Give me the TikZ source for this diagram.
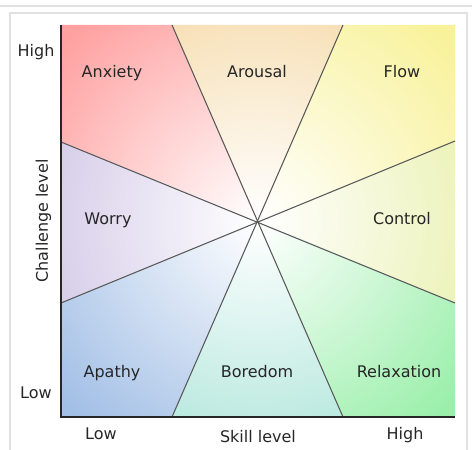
\documentclass[tikz,border=0pt]{standalone}
\usepackage{fontspec}
\setmainfont{DejaVu Sans}
\usetikzlibrary{calc}
\definecolor{fanx}{HTML}{FFA0A0}
\definecolor{faro}{HTML}{F5D9A6}
\definecolor{fflow}{HTML}{F8F29A}
\definecolor{fctl}{HTML}{E8F0AA}
\definecolor{frelax}{HTML}{9AEFAA}
\definecolor{fbore}{HTML}{AAE4D8}
\definecolor{fapa}{HTML}{A2BFE6}
\definecolor{fwor}{HTML}{CDC2E4}
\definecolor{ftext}{HTML}{262626}
\tikzset{
  zone/.style      = {font=\fontsize{12}{14}\selectfont, text=ftext,
                      text height=8.7pt, text depth=0pt},
  axislab/.style   = {font=\fontsize{12}{14}\selectfont, text=ftext,
                      text height=8.7pt, text depth=0pt},
  divider/.style   = {draw=black!65, line width=0.8pt},
  axisline/.style  = {draw=black!85, line width=1.5pt},
  frameline/.style = {draw=black!12, line width=1.2pt},
}

\begin{document}
\begin{tikzpicture}[x=0.75pt,y=0.75pt]
\useasboundingbox (0,0) rectangle (472,450);
% plot corners and the points where the dividers meet the border
\coordinate (c) at (258,229);
\coordinate (tl) at (61,425);  \coordinate (tr) at (455,425);
\coordinate (bl) at (61,33);   \coordinate (br) at (455,33);
\coordinate (t1) at (172,425); \coordinate (t2) at (343,425);
\coordinate (b1) at (172,33);  \coordinate (b2) at (343,33);
\coordinate (l1) at (61,308);  \coordinate (l2) at (61,147);
\coordinate (r1) at (455,309); \coordinate (r2) at (455,147);
% thumbnail frame
\draw[frameline] (0,444) -- (472,444);
\draw[frameline] (10,0) -- (10,437) -- (467,437) -- (467,0);
% shaded zones, white towards the middle
\foreach \col/\pa/\pb/\pc in {fanx/l1/tl/t1, faro/t1/t1/t2, fflow/t2/tr/r1,
    fctl/r1/r1/r2, frelax/r2/br/b2, fbore/b2/b2/b1, fapa/b1/bl/l2, fwor/l2/l2/l1}{
  \begin{scope}
    \clip (c) -- (\pa) -- (\pb) -- (\pc) -- cycle;
    \shade[inner color=white, outer color=\col]
      ($(c)-(265,265)$) rectangle ($(c)+(265,265)$);
  \end{scope}
}
\draw[divider] (l1) -- (r2);
\draw[divider] (t1) -- (b2);
\draw[divider] (t2) -- (b1);
\draw[divider] (r1) -- (l2);
\draw[axisline] (tl) -- (bl) -- (br);
% zone names
\node[zone] (anx) at (112,378) {Anxiety};
\node[zone] (aro) at (257,378) {Arousal};
\node[zone] (flow) at (402,378) {Flow};
\node[zone] (wor) at (108,231) {Worry};
\node[zone] (ctl) at (402,231) {Control};
\node[zone] (apa) at (112,78) {Apathy};
\node[zone] (bore) at (257,78) {Boredom};
\node[zone] (relax) at (399,78) {Relaxation};
% axis labels
\node[axislab] (hiy) at (36,399) {High};
\node[axislab] (loy) at (36,57) {Low};
\node[axislab,rotate=90] (chal) at (42,229) {Challenge level};
\node[axislab] (lox) at (101,16) {Low};
\node[axislab] (skill) at (258,13) {Skill level};
\node[axislab] (hix) at (405,16) {High};
\end{tikzpicture}
\end{document}
